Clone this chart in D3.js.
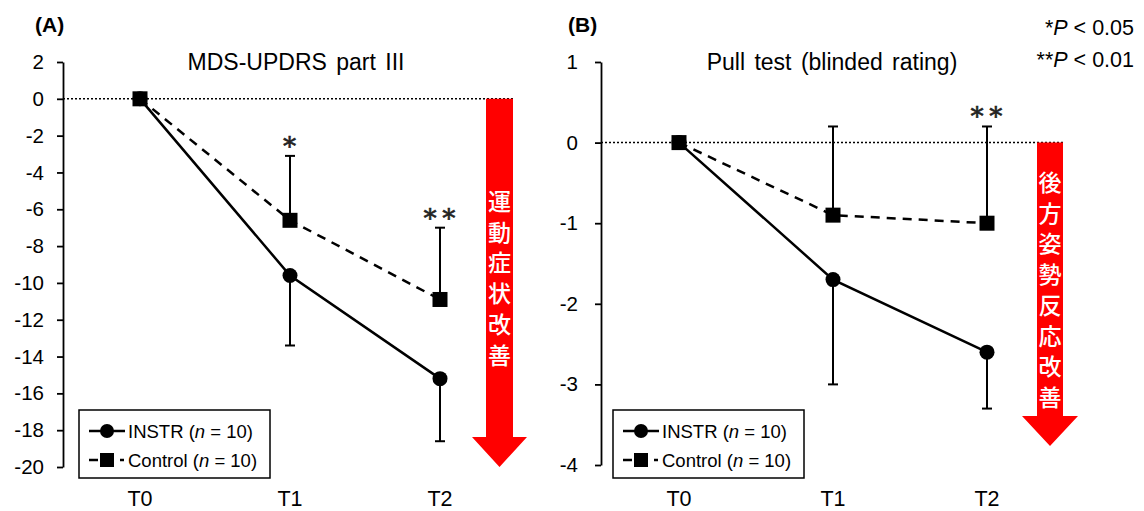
<!DOCTYPE html>
<html>
<head>
<meta charset="utf-8">
<script src="https://cdn.jsdelivr.net/npm/d3@7"></script>
<style>
  html, body { margin: 0; padding: 0; background: #fff; }
  svg { display: block; }
  text { font-family: "Liberation Sans", Arial, sans-serif; fill: #000; }
</style>
</head>
<body>
<svg id="chart" width="1144" height="511"></svg>
<script>
// Time points
const timepoints = ["T0", "T1", "T2"];

// Panel A: change in MDS-UPDRS part III (mean, SD)
const updrsInstr = [0, -9.6, -15.2];
const updrsInstrSD = [0, 3.8, 3.4];
const updrsControl = [0, -6.6, -10.9];
const updrsControlSD = [0, 3.5, 3.9];
const updrsSig = ["", "*", "**"];
const updrsTicks = [2, 0, -2, -4, -6, -8, -10, -12, -14, -16, -18, -20];

// Panel B: change in pull test score (mean, SD)
const pullInstr = [0, -1.7, -2.6];
const pullInstrSD = [0, 1.3, 0.7];
const pullControl = [0, -0.9, -1.0];
const pullControlSD = [0, 1.1, 1.2];
const pullSig = ["", "", "**"];
const pullTicks = [1, 0, -1, -2, -3, -4];

const seriesNames = ["INSTR", "Control"];

const svg = d3.select("#chart");

function panel(cfg) {
  const g = svg.append("g");
  const x = d3.scalePoint().domain(timepoints).range(cfg.xRange).padding(0.5);
  const y = d3.scaleLinear().domain(cfg.yDomain).range(cfg.yRange);

  // y axis
  const yAxis = d3.axisLeft(y).tickValues(cfg.ticks).tickSize(6).tickSizeOuter(0)
    .tickFormat(d => d < 0 ? "-" + Math.abs(d) : String(d));
  const ya = g.append("g").attr("transform", `translate(${cfg.axisX},0)`).call(yAxis);
  ya.select(".domain").attr("stroke", "#000").attr("stroke-width", 1.8);
  ya.selectAll(".tick line").attr("stroke", "#000").attr("stroke-width", 1.8);
  ya.selectAll(".tick text").attr("font-size", 20.5).attr("x", -cfg.labelGap)
    .style("font-family", '"Liberation Sans", Arial, sans-serif');

  // zero line
  g.append("line")
    .attr("x1", cfg.axisX).attr("x2", cfg.xRange[1])
    .attr("y1", y(0)).attr("y2", y(0))
    .attr("stroke", "#000").attr("stroke-width", 1.5).attr("stroke-dasharray", "2,2");

  // category labels
  g.selectAll("text.cat").data(timepoints).enter().append("text")
    .attr("class", "cat")
    .attr("x", d => x(d)).attr("y", 506)
    .attr("text-anchor", "middle").attr("font-size", 21.5).text(d => d);

  // improvement arrow
  const ax0 = cfg.arrow.x0, ax1 = cfg.arrow.x1, hw = cfg.arrow.head;
  const top = y(0), tip = cfg.arrow.tip, neck = tip - 30;
  g.append("path")
    .attr("d", `M${ax0},${top}H${ax1}V${neck}H${ax1 + hw}L${(ax0 + ax1) / 2},${tip}L${ax0 - hw},${neck}H${ax0}Z`)
    .attr("fill", "#ff0000");
  const chars = Array.from(cfg.arrow.label);
  g.selectAll("text.arr").data(chars).enter().append("text")
    .attr("class", "arr")
    .attr("x", (ax0 + ax1) / 2)
    .attr("y", (d, i) => cfg.arrow.textTop + i * 30.7)
    .attr("text-anchor", "middle")
    .attr("font-size", 23)
    .attr("font-weight", 500)
    .style("font-family", '"Noto Sans CJK JP", sans-serif')
    .style("fill", "#fff")
    .text(d => d);

  // error bars: INSTR downward, Control upward
  const cap = 5;
  function errBars(vals, sds, dir) {
    vals.forEach((v, i) => {
      if (!sds[i]) return;
      const xx = x(timepoints[i]);
      const end = y(v + dir * sds[i]);
      g.append("line").attr("x1", xx).attr("x2", xx).attr("y1", y(v)).attr("y2", end)
        .attr("stroke", "#000").attr("stroke-width", 2);
      g.append("line").attr("x1", xx - cap).attr("x2", xx + cap).attr("y1", end).attr("y2", end)
        .attr("stroke", "#000").attr("stroke-width", 2);
    });
  }
  errBars(cfg.instr, cfg.instrSD, -1);
  errBars(cfg.control, cfg.controlSD, 1);

  const line = d3.line().x((d, i) => x(timepoints[i])).y(d => y(d));
  g.append("path").datum(cfg.control).attr("d", line)
    .attr("fill", "none").attr("stroke", "#000").attr("stroke-width", 2.5)
    .attr("stroke-dasharray", "9,7");
  g.append("path").datum(cfg.instr).attr("d", line)
    .attr("fill", "none").attr("stroke", "#000").attr("stroke-width", 2.5);

  g.selectAll("rect.ctl").data(cfg.control).enter().append("rect")
    .attr("class", "ctl")
    .attr("x", (d, i) => x(timepoints[i]) - 7.5).attr("y", d => y(d) - 7.5)
    .attr("width", 15).attr("height", 15).attr("fill", "#000");
  g.selectAll("circle.ins").data(cfg.instr).enter().append("circle")
    .attr("class", "ins")
    .attr("cx", (d, i) => x(timepoints[i])).attr("cy", d => y(d)).attr("r", 7.5)
    .attr("fill", "#000");

  // significance marks above Control error bars
  g.selectAll("text.sig").data(cfg.sig).enter().append("text")
    .attr("class", "sig")
    .attr("x", (d, i) => x(timepoints[i]))
    .attr("y", (d, i) => y(cfg.control[i] + cfg.controlSD[i]) - 6)
    .attr("text-anchor", "middle")
    .attr("font-size", 26)
    .attr("letter-spacing", 1)
    .style("font-family", '"DejaVu Serif", serif')
    .style("fill", "#222")
    .style("stroke", "#222").style("stroke-width", 0.6)
    .text(d => d.replace(/\*/g, "∗"));

  // title and panel tag
  g.append("text").attr("x", cfg.titleX).attr("y", 70).attr("text-anchor", "middle")
    .attr("font-size", 23).attr("word-spacing", 3).text(cfg.title);
  g.append("text").attr("x", cfg.tagX).attr("y", 32).attr("font-size", 21)
    .attr("font-weight", "bold").text(cfg.tag);

  // legend
  const lg = g.append("g").attr("transform", `translate(${cfg.legendX},410)`);
  lg.append("rect").attr("x", 0).attr("y", 0).attr("width", 191).attr("height", 68)
    .attr("fill", "#fff").attr("stroke", "#000").attr("stroke-width", 1.5);
  seriesNames.forEach((name, i) => {
    const cy = 21 + i * 29;
    if (i === 0) {
      lg.append("line").attr("x1", 10).attr("x2", 46).attr("y1", cy).attr("y2", cy)
        .attr("stroke", "#000").attr("stroke-width", 2.5);
      lg.append("circle").attr("cx", 28).attr("cy", cy).attr("r", 7).attr("fill", "#000");
    } else {
      lg.append("line").attr("x1", 10).attr("x2", 19).attr("y1", cy).attr("y2", cy)
        .attr("stroke", "#000").attr("stroke-width", 2.5);
      lg.append("rect").attr("x", 21).attr("y", cy - 7).attr("width", 14).attr("height", 14).attr("fill", "#000");
      lg.append("line").attr("x1", 41).attr("x2", 45).attr("y1", cy).attr("y2", cy)
        .attr("stroke", "#000").attr("stroke-width", 2.5);
    }
    const t = lg.append("text").attr("x", 49).attr("y", cy + 7).attr("font-size", 18.5);
    t.append("tspan").text(name + " (");
    t.append("tspan").attr("font-style", "italic").text("n");
    t.append("tspan").text(" = 10)");
  });
}

panel({
  tag: "(A)", tagX: 35, title: "MDS-UPDRS part III", titleX: 296,
  xRange: [65, 515], axisX: 63, labelGap: 19,
  yDomain: [-20, 2], yRange: [467, 62], ticks: updrsTicks,
  instr: updrsInstr, instrSD: updrsInstrSD,
  control: updrsControl, controlSD: updrsControlSD, sig: updrsSig,
  legendX: 79,
  arrow: { x0: 486, x1: 513, head: 14, tip: 467, label: "運動症状改善", textTop: 210 }
});

panel({
  tag: "(B)", tagX: 568, title: "Pull test (blinded rating)", titleX: 832,
  xRange: [602, 1064], axisX: 601, labelGap: 23,
  yDomain: [-4, 1], yRange: [465, 62], ticks: pullTicks,
  instr: pullInstr, instrSD: pullInstrSD,
  control: pullControl, controlSD: pullControlSD, sig: pullSig,
  legendX: 613,
  arrow: { x0: 1037, x1: 1063, head: 15, tip: 446, label: "後方姿勢反応改善", textTop: 191 }
});

// significance key
const key = svg.append("g");
[["*", "0.05", 35], ["**", "0.01", 67]].forEach(([s, p, yy]) => {
  const t = key.append("text").attr("x", 1134).attr("y", yy).attr("text-anchor", "end").attr("font-size", 21.5);
  t.append("tspan").text(s);
  t.append("tspan").attr("font-style", "italic").text("P");
  t.append("tspan").text(" < " + p);
});
</script>
</body>
</html>
